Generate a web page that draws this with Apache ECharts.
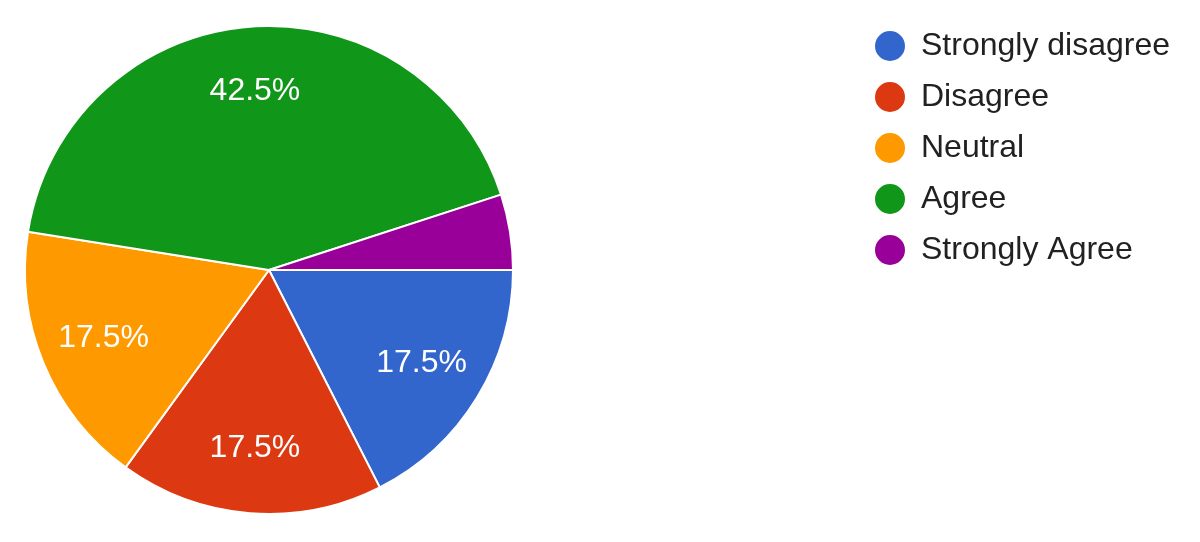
<!DOCTYPE html>
<html>
<head>
<meta charset="utf-8">
<script src="https://cdn.jsdelivr.net/npm/echarts@6/dist/echarts.min.js"></script>
<style>html,body{margin:0;padding:0;background:#fff;}#c{width:1200px;height:542px;}</style>
</head>
<body>
<div id="c"></div>
<script>
const categories = ['Strongly disagree', 'Disagree', 'Neutral', 'Agree', 'Strongly Agree'];
const values = [17.5, 17.5, 17.5, 42.5, 5];
const colors = ['#3366CC', '#DC3912', '#FF9900', '#109618', '#990099'];

const data = categories.map((n, i) => ({ name: n, value: values[i], itemStyle: { color: colors[i] } }));
const labelData = categories.map((n, i) => ({ name: n, value: values[i] }));

const chart = echarts.init(document.getElementById('c'), null, { renderer: 'canvas' });
chart.setOption({
  animation: false,
  backgroundColor: '#fff',
  legend: {
    orient: 'vertical',
    left: 868,
    top: 24,
    icon: 'circle',
    itemWidth: 32,
    itemHeight: 32,
    itemGap: 17,
    data: categories,
    textStyle: { fontFamily: 'Liberation Sans, Arial, sans-serif', fontSize: 32, lineHeight: 32, color: '#212121', padding: [0, 0, 0, 10] }
  },
  series: [
    {
      type: 'pie',
      center: [269, 270],
      radius: 244,
      startAngle: 0,
      clockwise: true,
      data: data,
      label: { show: false },
      labelLine: { show: false },
      itemStyle: { borderColor: '#fff', borderWidth: 2 },
      emphasis: { disabled: true }
    },
    {
      type: 'pie',
      center: [269, 270],
      radius: [108, 244],
      startAngle: 0,
      clockwise: true,
      silent: true,
      data: labelData,
      itemStyle: { color: 'rgba(0,0,0,0)', borderWidth: 0 },
      label: {
        show: true,
        position: 'inside',
        formatter: p => p.value === 5 ? '' : p.value.toFixed(1) + '%',
        color: '#fff',
        fontFamily: 'Liberation Sans, Arial, sans-serif',
        fontSize: 32
      },
      labelLine: { show: false },
      emphasis: { disabled: true }
    }
  ]
});
</script>
</body>
</html>
